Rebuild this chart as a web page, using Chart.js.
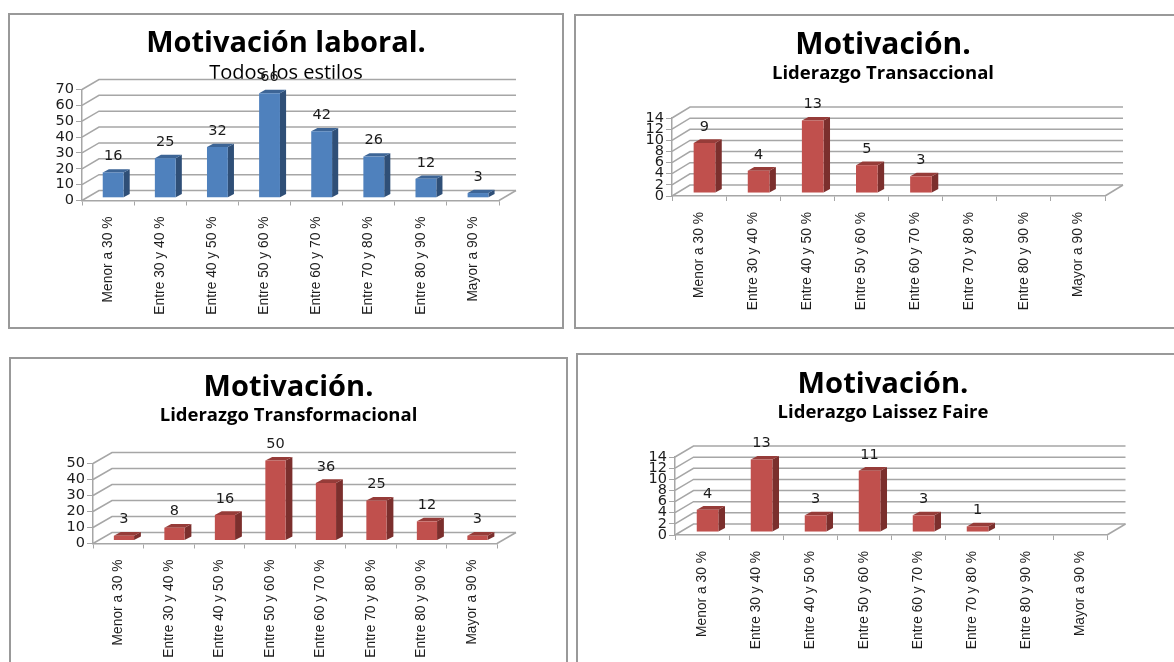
<!DOCTYPE html>
<html>
<head>
<meta charset="utf-8">
<title>Motivación</title>
<script src="https://cdn.jsdelivr.net/npm/chart.js@4/dist/chart.umd.min.js"></script>
<style>
  html, body { margin: 0; padding: 0; background: #fff; overflow: hidden; width: 1174px; height: 662px; }
  canvas { position: absolute; }
  .frame { position: absolute; box-sizing: border-box; border: 2px solid #999; }
</style>
</head>
<body>
<canvas id="c1"></canvas>
<canvas id="c2"></canvas>
<canvas id="c3"></canvas>
<canvas id="c4"></canvas>
<script>
var categories = ["Menor a 30 %", "Entre 30 y 40 %", "Entre 40 y 50 %", "Entre 50 y 60 %",
                  "Entre 60 y 70 %", "Entre 70 y 80 %", "Entre 80 y 90 %", "Mayor a 90 %"];

var todosValues = [16, 25, 32, 66, 42, 26, 12, 3];
var transaccionalValues = [9, 4, 13, 5, 3, null, null, null];
var transformacionalValues = [3, 8, 16, 50, 36, 25, 12, 3];
var laissezValues = [4, 13, 3, 11, 3, 1, null, null];

var mainFont = "'Open Sans', 'Noto Sans', sans-serif";
var numFont = "'DejaVu Sans', sans-serif";
var catFont = "'Liberation Sans', sans-serif";

var BLUE = { front: "#4f81bd", side: "#2f4f77", top: "#3d6596" };
var RED = { front: "#c0504d", side: "#7b2f2d", top: "#963c39" };

// bars + walls drawn in fake 3D, everything goes through the chart scales
var fake3d = {
  id: "fake3d",
  beforeDatasetsDraw: function (chart, args, o) {
    var c = chart.ctx, a = chart.chartArea, y = chart.scales.y;
    c.save();
    c.strokeStyle = "#a6a6a6";
    c.lineWidth = 1.5;
    y.ticks.forEach(function (t) {
      var py = y.getPixelForValue(t.value);
      c.beginPath();
      c.moveTo(a.left, py);
      c.lineTo(a.left + o.depthX, py - o.depthY);
      c.lineTo(a.right + o.depthX, py - o.depthY);
      c.stroke();
    });
    c.beginPath();
    c.moveTo(a.right, a.bottom);
    c.lineTo(a.right + o.depthX, a.bottom - o.depthY);
    c.stroke();
    c.restore();
  },
  beforeDatasetDraw: function (chart, args, o) {
    var c = chart.ctx, meta = chart.getDatasetMeta(args.index);
    var values = chart.data.datasets[args.index].data;
    var sx = o.depthX * 0.3, sy = o.depthY * 0.27;
    var bx = o.depthX * 0.36, by = o.depthY * 0.33;
    c.save();
    c.translate(sx, -sy);
    meta.data.forEach(function (el, i) {
      if (values[i] === null) return;
      var r = el.x + el.width / 2, l = el.x - el.width / 2;
      c.fillStyle = o.colors.side;
      c.beginPath();
      c.moveTo(r, el.y);
      c.lineTo(r + bx, el.y - by);
      c.lineTo(r + bx, el.base - by);
      c.lineTo(r, el.base);
      c.closePath();
      c.fill();
      c.fillStyle = o.colors.top;
      c.beginPath();
      c.moveTo(l, el.y);
      c.lineTo(l + bx, el.y - by);
      c.lineTo(r + bx, el.y - by);
      c.lineTo(r, el.y);
      c.closePath();
      c.fill();
    });
  },
  afterDatasetDraw: function (chart, args, o) {
    var c = chart.ctx, meta = chart.getDatasetMeta(args.index);
    var values = chart.data.datasets[args.index].data;
    c.fillStyle = "#1c1c1c";
    c.font = "14.5px " + numFont;
    c.textAlign = "center";
    c.textBaseline = "middle";
    meta.data.forEach(function (el, i) {
      if (values[i] === null) return;
      c.fillText(values[i], el.x, el.y - 16);
    });
    c.restore();
  }
};

function makeChart(id, values, colors, box, plot, head, yMax, yStep) {
  var canvas = document.getElementById(id);
  var frame = document.createElement("div");
  frame.className = "frame";
  frame.style.left = box.left + "px";
  frame.style.top = box.top + "px";
  frame.style.width = (box.right - box.left) + "px";
  frame.style.height = (box.bottom - box.top) + "px";
  document.body.insertBefore(frame, canvas);

  var left = box.left + 2, top = box.top + 2;
  var w = box.right - box.left - 4, h = box.bottom - box.top - 4;
  canvas.style.left = left + "px";
  canvas.style.top = top + "px";
  canvas.style.width = w + "px";
  canvas.style.height = h + "px";
  canvas.width = w;
  canvas.height = h;

  var tH = head.titleSize * 1.2, sH = head.subSize * 1.2;
  new Chart(canvas.getContext("2d"), {
    type: "bar",
    data: {
      labels: categories,
      datasets: [{
        data: values,
        backgroundColor: colors.front,
        categoryPercentage: 1,
        barPercentage: 0.4,
        clip: false
      }]
    },
    plugins: [fake3d],
    options: {
      responsive: false,
      animation: false,
      events: [],
      layout: { padding: 0 },
      scales: {
        x: {
          border: { color: "#a6a6a6", width: 1.5 },
          grid: { drawOnChartArea: false, tickLength: 5, tickColor: "#a6a6a6", offset: true },
          ticks: {
            minRotation: 90, maxRotation: 90, autoSkip: false, padding: 11,
            color: "#1c1c1c", font: { family: catFont, size: 13.8 }
          },
          afterFit: function (s) { s.height = top + h - plot.y0; }
        },
        y: {
          min: 0, max: yMax,
          border: { color: "#a6a6a6", width: 1.5 },
          grid: { drawOnChartArea: false, tickLength: 6, tickColor: "#a6a6a6" },
          ticks: {
            stepSize: yStep, autoSkip: false, padding: 2,
            color: "#1c1c1c", font: { family: numFont, size: 14.5 }
          },
          afterFit: function (s) { s.width = plot.left - left; }
        },
        // empty axis, only holds the room on the right so the titles stay centred on the frame
        rightRoom: {
          position: "right",
          grid: { display: false },
          border: { display: false },
          ticks: { display: false },
          afterFit: function (s) { s.width = box.right - 2 - plot.right; }
        }
      },
      plugins: {
        legend: { display: false },
        tooltip: { enabled: false },
        title: {
          display: true,
          text: head.title,
          color: "#000",
          font: { family: mainFont, size: head.titleSize, weight: "bold", lineHeight: 1.2 },
          padding: { top: head.titleY - top - tH / 2, bottom: 0 }
        },
        subtitle: {
          display: true,
          text: head.sub,
          color: "#000",
          font: { family: mainFont, size: head.subSize, weight: head.subWeight, lineHeight: 1.2 },
          padding: {
            top: head.subY - head.titleY - tH / 2 - sH / 2,
            bottom: plot.top - head.subY - sH / 2
          }
        },
        fake3d: { depthX: plot.depthX, depthY: plot.depthY, colors: colors }
      }
    }
  });
}

makeChart("c1", todosValues, BLUE,
  { left: 8, top: 13, right: 564, bottom: 329 },
  { left: 82, right: 499, top: 89.5, y0: 200.5, depthX: 17, depthY: 10 },
  { title: "Motivación laboral.", sub: "Todos los estilos", titleSize: 29, subSize: 20, subWeight: "normal", titleY: 44, subY: 73 },
  70, 10);

makeChart("c2", transaccionalValues, RED,
  { left: 574, top: 14, right: 1192, bottom: 329 },
  { left: 672, right: 1105, top: 118, y0: 196, depthX: 18, depthY: 11 },
  { title: "Motivación.", sub: "Liderazgo Transaccional", titleSize: 30, subSize: 18.5, subWeight: "bold", titleY: 45, subY: 74 },
  14, 2);

makeChart("c3", transformacionalValues, RED,
  { left: 9, top: 357, right: 568, bottom: 690 },
  { left: 93, right: 497, top: 463.5, y0: 543.5, depthX: 19, depthY: 11 },
  { title: "Motivación.", sub: "Liderazgo Transformacional", titleSize: 29, subSize: 18.5, subWeight: "bold", titleY: 388, subY: 416 },
  50, 10);

makeChart("c4", laissezValues, RED,
  { left: 576, top: 353, right: 1190, bottom: 690 },
  { left: 675, right: 1107, top: 457, y0: 535, depthX: 18.5, depthY: 11 },
  { title: "Motivación.", sub: "Liderazgo Laissez Faire", titleSize: 29.2, subSize: 18.5, subWeight: "bold", titleY: 385, subY: 413 },
  14, 2);
</script>
</body>
</html>
